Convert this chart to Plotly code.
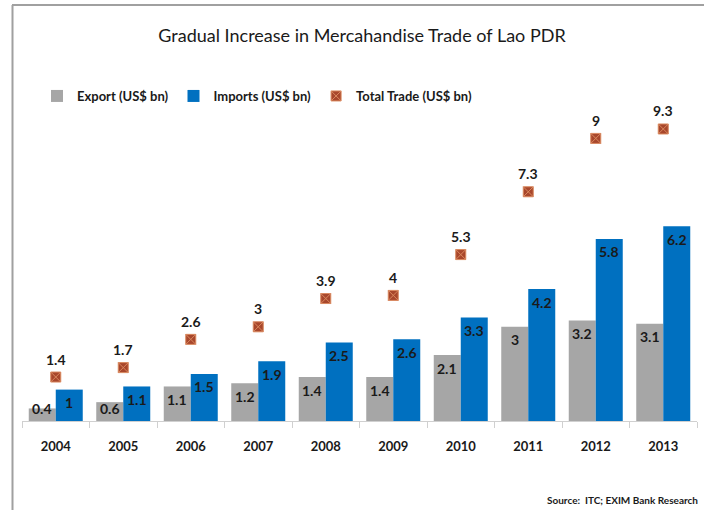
import plotly.graph_objects as go

years = ["2004", "2005", "2006", "2007", "2008", "2009", "2010", "2011", "2012", "2013"]
export_vals = [0.4, 0.6, 1.1, 1.2, 1.4, 1.4, 2.1, 3.0, 3.2, 3.1]
import_vals = [1.0, 1.1, 1.5, 1.9, 2.5, 2.6, 3.3, 4.2, 5.8, 6.2]
total_vals = [1.4, 1.7, 2.6, 3.0, 3.9, 4.0, 5.3, 7.3, 9.0, 9.3]

FONT = "Lato"
TXT = "#1a1a1a"
W, H = 704, 510
L, R, T, B = 22, 7, 107, 89
pw, ph = W - L - R, H - T - B
YMAX = 10
BARGAP = 0.2

def px_x(p):
    return (p - L) / pw

def px_y(p):
    return (H - B - p) / ph

fig = go.Figure()
fig.add_trace(go.Bar(
    x=years, y=export_vals, name="Export (US$ bn)",
    marker=dict(color="#A6A6A6", line=dict(width=0)),
))
fig.add_trace(go.Bar(
    x=years, y=import_vals, name="Imports (US$ bn)",
    marker=dict(color="#0070C0", line=dict(width=0)),
))
fig.add_trace(go.Scatter(
    x=years, y=total_vals, name="Total Trade (US$ bn)", mode="markers",
    marker=dict(symbol="square-x", size=10, color="#A8472C",
                line=dict(color="#D9885E", width=1)),
    cliponaxis=False,
))

# total labels above the markers
for i, v in enumerate(total_vals):
    fig.add_annotation(x=i, y=v, xref="x", yref="y", text=f"{v:g}",
                       showarrow=False, xanchor="center", yanchor="middle", yshift=18,
                       font=dict(family=FONT, size=14, color=TXT, weight="bold"))

# data labels inside bar ends (clamped to the base for short bars)
ppu = ph / YMAX
cat_w = pw / len(years)
bar_w = cat_w * (1 - BARGAP) / 2
for vals, sign in ((export_vals, -1), (import_vals, 1)):
    for i, v in enumerate(vals):
        drop = min(13, v * ppu - 13)
        fig.add_annotation(x=i, y=v, xref="x", yref="y", text=f"{v:g}",
                           showarrow=False, xanchor="center", yanchor="middle",
                           xshift=sign * bar_w / 2, yshift=-drop,
                           font=dict(family=FONT, size=14, color=TXT, weight="bold"))

fig.update_layout(
    width=W, height=H,
    margin=dict(l=L, r=R, t=T, b=B),
    paper_bgcolor="white", plot_bgcolor="white",
    barmode="group", bargap=BARGAP, bargroupgap=0,
    font=dict(family=FONT, color=TXT),
    title=dict(text="Gradual Increase in Mercahandise Trade of Lao PDR",
               x=362 / W, xanchor="center", y=1 - 36 / H, yanchor="middle",
               font=dict(family=FONT, size=18, color=TXT)),
    legend=dict(orientation="h", x=px_x(37), y=px_y(96), xanchor="left", yanchor="middle",
                font=dict(family=FONT, size=13, color=TXT, weight="bold"),
                itemwidth=30, tracegroupgap=0, bgcolor="rgba(0,0,0,0)"),
    xaxis=dict(type="category", range=[-0.5, len(years) - 0.5], autorange=False,
               showgrid=False, showline=True, linecolor="#D0D0D0",
               linewidth=1, ticks="outside", tickson="boundaries", ticklen=6,
               tickcolor="#D0D0D0", ticklabelstandoff=13, tickangle=0,
               tickfont=dict(family=FONT, size=13, color=TXT, weight="bold")),
    yaxis=dict(range=[0, YMAX], autorange=False, visible=False, showgrid=False, zeroline=False),
    showlegend=True,
)

fig.add_annotation(text="Source:  ITC; EXIM Bank Research", xref="paper", yref="paper",
                   x=px_x(700), y=px_y(500), xanchor="right", yanchor="middle",
                   showarrow=False, font=dict(family=FONT, size=10, color=TXT, weight="bold"))

# outer frame lines (left and top)
fig.add_shape(type="line", xref="paper", yref="paper",
              x0=px_x(12.5), x1=px_x(12.5), y0=px_y(5), y1=px_y(512),
              line=dict(color="#A0A0A0", width=2))
fig.add_shape(type="line", xref="paper", yref="paper",
              x0=px_x(12), x1=px_x(706), y0=px_y(5), y1=px_y(5),
              line=dict(color="#A0A0A0", width=2))

fig.write_html("out.html", config={"displayModeBar": False},
               post_script="document.body.style.margin='0';document.body.style.overflow='hidden';")
